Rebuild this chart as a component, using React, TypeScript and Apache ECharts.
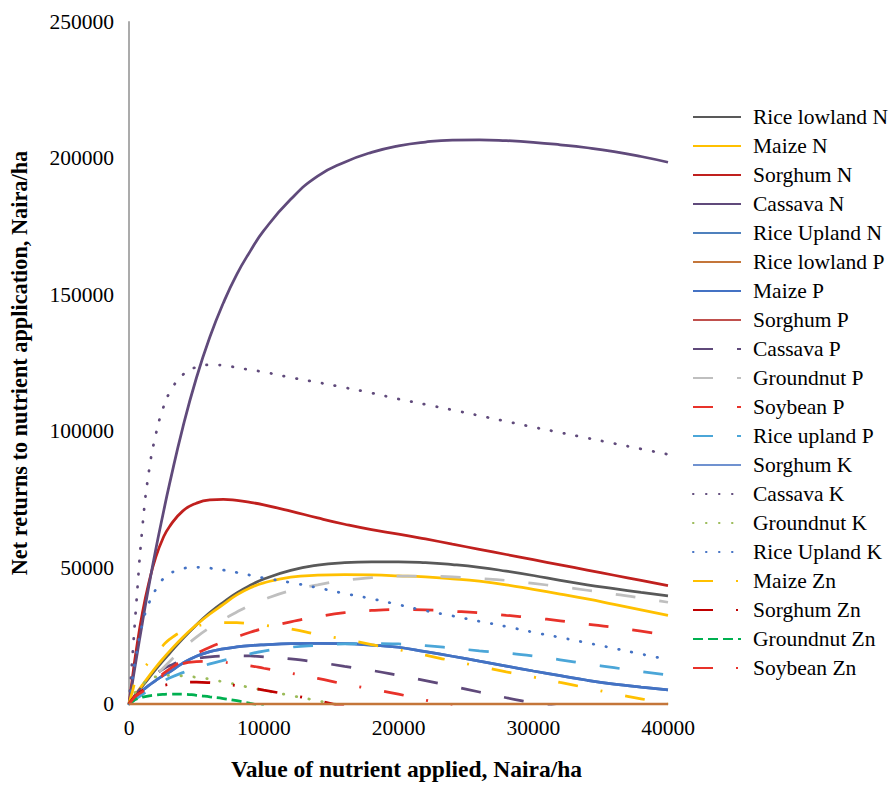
import React, { useEffect, useRef } from "react";
import * as echarts from "echarts";

// Nutrient value applied (Naira/ha) – shared x grid
const X = [0, 250, 500, 1000, 1500, 2000, 2500, 3000, 4000, 5000, 6000, 7000, 8000, 9000, 10000, 12000, 14000, 16000, 18000, 20000, 22000, 24000, 26000, 28000, 30000, 32000, 34000, 36000, 38000, 40000];

const RICE_LOWLAND_N = [0, 1600, 3300, 6500, 9700, 12800, 15700, 18500, 24000, 29000, 33500, 37300, 40700, 43500, 45800, 49000, 50900, 51800, 52100, 52100, 51800, 51100, 50100, 48700, 47100, 45300, 43700, 42300, 40900, 39600];
const MAIZE_N = [0, 1800, 3600, 7000, 10300, 13500, 16500, 19300, 24500, 29000, 33000, 36500, 40000, 42600, 44400, 46500, 47200, 47400, 47300, 47000, 46600, 45900, 45000, 43700, 42000, 40300, 38500, 36500, 34500, 32500];
const SORGHUM_N = [0, 9500, 18500, 33500, 45000, 54000, 60500, 65000, 70800, 73600, 74800, 75000, 74600, 73900, 73000, 70700, 68200, 65900, 63900, 62300, 60500, 58600, 56700, 54800, 52900, 51000, 49100, 47200, 45300, 43400];
const CASSAVA_N = [0, 7700, 15300, 30000, 44000, 57000, 69000, 80500, 101500, 119500, 134500, 147000, 157500, 166000, 173500, 185000, 193500, 198600, 202200, 204600, 206000, 206700, 206800, 206500, 205900, 205000, 203900, 202500, 200700, 198600];
const RICE_UPLAND_N = [0, 1500, 2800, 5000, 6900, 8700, 10300, 11700, 15000, 17500, 19200, 20200, 20900, 21400, 21700, 22100, 22200, 22100, 21600, 20800, 19200, 17500, 15700, 13900, 12100, 10400, 8700, 7300, 6200, 5200];
const RICE_LOWLAND_P = [0, 0, 0, 0, 0, 0, 0, 0, 0, 0, 0, 0, 0, 0, 0, 0, 0, 0, 0, 0, 0, 0, 0, 0, 0, 0, 0, 0, 0, 0];
const MAIZE_P = [0, 1500, 2800, 5000, 6900, 8700, 10300, 11700, 15000, 17500, 19200, 20200, 20900, 21400, 21700, 22100, 22200, 22100, 21600, 20800, 19200, 17500, 15700, 13900, 12100, 10400, 8700, 7300, 6200, 5200];
const SORGHUM_P: number[] = [];
const CASSAVA_P = [0, 1800, 3500, 6500, 9000, 11000, 12700, 14000, 15800, 16700, 17300, 17600, 17700, 17600, 17300, 16500, 15300, 13800, 12300, 10500, 8600, 6500, 4400, 2300, 400, -1500];
const GROUNDNUT_P = [0, 1300, 2600, 5200, 7900, 10500, 13000, 15500, 20300, 24500, 28000, 31000, 33700, 36200, 38300, 41600, 43700, 45300, 46300, 46900, 46900, 46600, 46000, 45300, 44200, 43000, 41700, 40300, 38900, 37300];
const SOYBEAN_P = [0, 1200, 2400, 4700, 6900, 9000, 11000, 12800, 16000, 18500, 20800, 22800, 24600, 26300, 27700, 30100, 32000, 33500, 34300, 34600, 34500, 34000, 33400, 32500, 31600, 30500, 29300, 28100, 26700, 25200];
const RICE_UPLAND_P = [0, 900, 1800, 3500, 5200, 6800, 8200, 9500, 11500, 13200, 14700, 16000, 17200, 18400, 19400, 20800, 21500, 22000, 22100, 22000, 21400, 20500, 19500, 18700, 17600, 16200, 14700, 13300, 11900, 10600];
const SORGHUM_K: number[] = [];
const CASSAVA_K = [0, 17000, 34000, 65000, 86000, 99000, 108000, 114000, 120700, 123500, 124300, 124200, 123300, 122500, 121700, 119700, 117900, 116000, 114000, 111800, 109800, 107800, 105700, 103600, 101500, 99500, 97500, 95500, 93500, 91500];
const GROUNDNUT_K = [0, 2500, 4500, 7200, 9000, 10000, 10400, 10500, 10300, 9800, 9100, 8100, 7100, 6000, 5000, 3100, 1200, -800];
const RICE_UPLAND_K = [0, 9000, 17000, 29500, 37200, 42100, 45700, 47700, 49700, 50100, 49800, 49100, 48200, 47200, 46200, 44500, 42600, 40500, 38600, 36400, 34200, 32300, 30300, 28400, 26300, 24400, 22400, 20400, 18300, 16300];
const MAIZE_ZN = [0, 4500, 8500, 12500, 15500, 18500, 21300, 23700, 26700, 28500, 29400, 29800, 29800, 29400, 28900, 27500, 25500, 23700, 21800, 19900, 17900, 15800, 13800, 11800, 9900, 7900, 5900, 3800, 1900, 0];
const SORGHUM_ZN = [0, 1800, 3000, 5000, 6000, 6500, 6800, 7200, 7900, 8000, 7800, 7300, 6700, 6000, 5100, 3300, 1300, -1000];
const GROUNDNUT_ZN = [0, 900, 1700, 2500, 3000, 3300, 3500, 3600, 3600, 3200, 2600, 2000, 1200, 200, -800];
const SOYBEAN_ZN = [0, 1500, 3000, 4500, 6500, 8500, 10500, 12200, 14800, 15500, 15600, 15300, 14700, 14000, 13100, 11300, 9400, 7300, 5500, 3600, 1400, -500];

const Y_TICKS = [0, 50000, 100000, 150000, 200000, 250000];
const X_TICKS = [0, 10000, 20000, 30000, 40000];

const FONT = '"Liberation Serif", "Times New Roman", serif';
const LONG_DASH = [20, 24];
const LONG_DASH_DOT = [20, 23, 2, 23];
const DOTS = [0.5, 12.5];
const DASH = [10, 5];

type Def = { name: string; data: number[]; color: string; dash: any; z?: number };

const SERIES: Def[] = [
  { name: "Rice lowland N", data: RICE_LOWLAND_N, color: "#595959", dash: "solid" },
  { name: "Maize N", data: MAIZE_N, color: "#FFC000", dash: "solid" },
  { name: "Sorghum N", data: SORGHUM_N, color: "#C0201E", dash: "solid" },
  { name: "Cassava N", data: CASSAVA_N, color: "#604A7B", dash: "solid" },
  { name: "Rice Upland N", data: RICE_UPLAND_N, color: "#4F81BD", dash: "solid" },
  { name: "Rice lowland P", data: RICE_LOWLAND_P, color: "#C4763A", dash: "solid", z: 3 },
  { name: "Maize P", data: MAIZE_P, color: "#4472C4", dash: "solid" },
  { name: "Sorghum P", data: SORGHUM_P, color: "#C0504D", dash: "solid" },
  { name: "Cassava P", data: CASSAVA_P, color: "#5F497A", dash: LONG_DASH },
  { name: "Groundnut P", data: GROUNDNUT_P, color: "#BFBFBF", dash: LONG_DASH },
  { name: "Soybean P", data: SOYBEAN_P, color: "#E8322A", dash: LONG_DASH },
  { name: "Rice upland P", data: RICE_UPLAND_P, color: "#4BA6D8", dash: LONG_DASH },
  { name: "Sorghum K", data: SORGHUM_K, color: "#7092D0", dash: "solid" },
  { name: "Cassava K", data: CASSAVA_K, color: "#604A7B", dash: DOTS },
  { name: "Groundnut K", data: GROUNDNUT_K, color: "#9BBB59", dash: DOTS },
  { name: "Rice Upland K", data: RICE_UPLAND_K, color: "#4472C4", dash: DOTS },
  { name: "Maize Zn", data: MAIZE_ZN, color: "#FFC000", dash: LONG_DASH_DOT },
  { name: "Sorghum Zn", data: SORGHUM_ZN, color: "#C00000", dash: LONG_DASH_DOT },
  { name: "Groundnut Zn", data: GROUNDNUT_ZN, color: "#00B050", dash: DASH },
  { name: "Soybean Zn", data: SOYBEAN_ZN, color: "#E8322A", dash: LONG_DASH_DOT },
];

function pairs(ys: number[]) {
  const out: number[][] = [];
  for (let i = 0; i < ys.length && i < X.length; i++) out.push([X[i], ys[i]]);
  return out;
}

export default function App() {
  const ref = useRef<HTMLDivElement>(null);
  useEffect(() => {
    document.body.style.margin = "0";
    if (!ref.current) return;
    const chart = echarts.init(ref.current, null, { renderer: "svg" });
    chart.setOption({
      animation: false,
      backgroundColor: "#ffffff",
      grid: { left: 128, right: 223, top: 22, bottom: 76, containLabel: false },
      xAxis: {
        type: "value",
        min: X_TICKS[0],
        max: X_TICKS[X_TICKS.length - 1],
        interval: 10000,
        name: "Value of nutrient applied, Naira/ha",
        nameLocation: "middle",
        nameGap: 53,
        nameTextStyle: { fontFamily: FONT, fontWeight: "bold", fontSize: 23.5, color: "#000", padding: [0, 0, 0, 16] },
        axisLine: { show: true, lineStyle: { color: "#BFBFBF", width: 1.5 } },
        axisTick: { show: false },
        splitLine: { show: false },
        axisLabel: { fontFamily: FONT, fontSize: 21.5, color: "#000", margin: 13, formatter: (v: number) => String(v) },
      },
      yAxis: {
        type: "value",
        min: Y_TICKS[0],
        max: Y_TICKS[Y_TICKS.length - 1],
        interval: 50000,
        name: "Net returns to nutrient application, Naira/ha",
        nameLocation: "middle",
        nameGap: 99,
        nameTextStyle: { fontFamily: FONT, fontWeight: "bold", fontSize: 22.3, color: "#000" },
        axisLine: { show: true, lineStyle: { color: "#ABABAB", width: 2 } },
        axisTick: { show: false },
        splitLine: { show: false },
        axisLabel: { fontFamily: FONT, fontSize: 21.5, color: "#000", margin: 15, formatter: (v: number) => String(v) },
      },
      legend: {
        orient: "vertical",
        left: 687,
        top: 101,
        itemWidth: 48,
        itemHeight: 14,
        itemGap: 7,
        itemStyle: { opacity: 0 },
        textStyle: { fontFamily: FONT, fontSize: 21.5, color: "#000", lineHeight: 22, padding: [0, 0, 0, 7] },
        data: SERIES.map((s) => s.name),
      },
      series: SERIES.map((s) => ({
        name: s.name,
        type: "line",
        data: pairs(s.data),
        smooth: 0.5,
        symbol: "none",
        showSymbol: false,
        clip: true,
        z: s.z ?? 2,
        color: s.color,
        lineStyle: { color: s.color, width: 2.75, type: s.dash, cap: s.dash === DOTS ? "round" : "butt" },
        emphasis: { disabled: true },
      })),
    });
    return () => chart.dispose();
  }, []);
  return <div ref={ref} style={{ width: 891, height: 786 }} />;
}
